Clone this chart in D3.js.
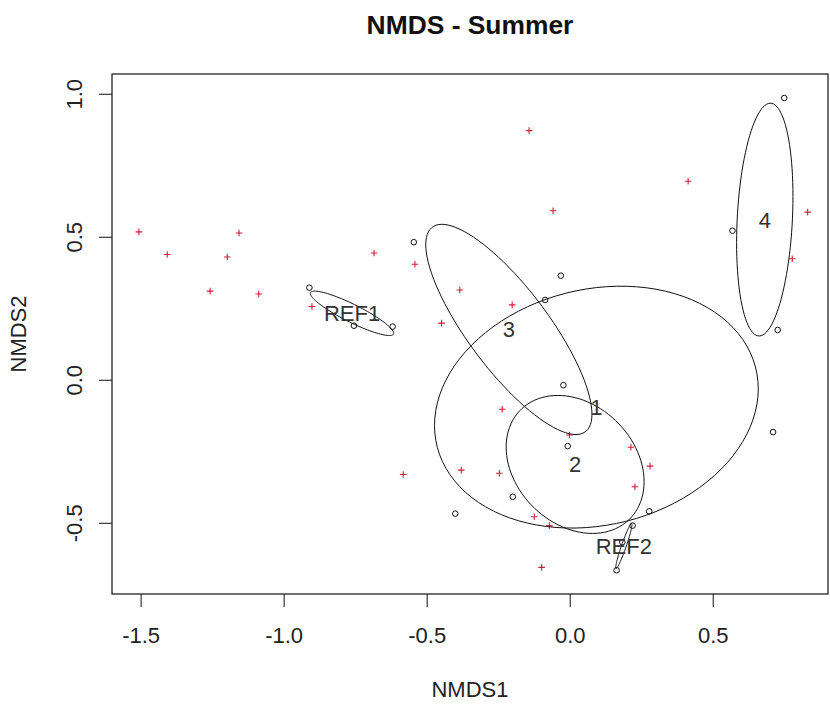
<!DOCTYPE html>
<html>
<head>
<meta charset="utf-8">
<script src="https://cdn.jsdelivr.net/npm/d3@7"></script>
<style>
  body { margin: 0; background: #fff; }
  text { font-family: "Liberation Sans", Arial, Helvetica, sans-serif; }
</style>
</head>
<body>
<div id="chart"></div>
<script>
const width = 830;
const height = 704;
const margins = { top: 74, left: 112, bottom: 110, right: 2 };

// site scores (open circles) and their groups
const siteX = [-0.910, -0.754, -0.619, -0.545, -0.031, -0.086, -0.022, -0.007, -0.199,
               -0.400, 0.278, 0.711, 0.750, 0.569, 0.727, 0.220, 0.184, 0.164];
const siteY = [0.322, 0.189, 0.186, 0.481, 0.364, 0.279, -0.019, -0.232, -0.409,
               -0.468, -0.460, -0.183, 0.985, 0.521, 0.174, -0.510, -0.568, -0.666];
const siteGroup = ['REF1', 'REF1', 'REF1', '3', '1', '3', '2', '3', '2',
                   '1', '2', '1', '4', '4', '4', 'REF2', 'REF2', 'REF2'];
const groupNames = ['1', '2', '3', '4', 'REF1', 'REF2'];

// species scores (red crosses)
const speciesX = [-1.506, -1.156, -1.407, -1.197, -1.257, -1.087, -0.901, -0.142, -0.058,
                  -0.684, -0.541, -0.384, -0.201, -0.448, 0.414, 0.832, 0.778, -0.236,
                  -0.001, -0.582, -0.379, -0.246, -0.124, -0.071, -0.098, 0.214, 0.281, 0.228];
const speciesY = [0.517, 0.513, 0.438, 0.429, 0.310, 0.300, 0.256, 0.871, 0.591,
                  0.443, 0.404, 0.314, 0.262, 0.198, 0.694, 0.586, 0.423, -0.103,
                  -0.193, -0.331, -0.316, -0.327, -0.479, -0.510, -0.656, -0.236, -0.302, -0.374];

const xTicks = [-1.5, -1.0, -0.5, 0.0, 0.5];
const yTicks = [-0.5, 0.0, 0.5, 1.0];
const xDomain = [-1.600, 0.903];
const yDomain = [-0.749, 1.069];

const svg = d3.select('#chart')
    .append('svg')
    .attr('width', width)
    .attr('height', height);

svg.append('rect').attr('width', width).attr('height', height).attr('fill', '#fff');

const x = d3.scaleLinear().domain(xDomain).range([margins.left, width - margins.right]);
const y = d3.scaleLinear().domain(yDomain).range([height - margins.bottom, margins.top]);

// axes
const xAxis = svg.append('g')
    .attr('transform', `translate(0,${height - margins.bottom})`)
    .call(d3.axisBottom(x).tickValues(xTicks).tickSize(13).tickSizeOuter(0).tickPadding(20)
        .tickFormat(d => d.toFixed(1)));
xAxis.select('.domain').remove();
xAxis.selectAll('line').attr('stroke', '#111');
xAxis.selectAll('text').attr('font-size', 22).attr('fill', '#222')
    .attr('font-family', '"Liberation Sans", Arial, sans-serif');

const yAxis = svg.append('g')
    .attr('transform', `translate(${margins.left},0)`)
    .call(d3.axisLeft(y).tickValues(yTicks).tickSize(13).tickSizeOuter(0)
        .tickFormat(d => d.toFixed(1)));
yAxis.select('.domain').remove();
yAxis.selectAll('line').attr('stroke', '#111');
yAxis.selectAll('text')
    .attr('x', 0).attr('y', 0).attr('dy', 0)
    .attr('text-anchor', 'middle')
    .attr('transform', 'translate(-30,0) rotate(-90)')
    .attr('font-size', 22).attr('fill', '#222')
    .attr('font-family', '"Liberation Sans", Arial, sans-serif');

// box
svg.append('rect')
    .attr('x', margins.left).attr('y', margins.top)
    .attr('width', width - margins.right - margins.left)
    .attr('height', height - margins.bottom - margins.top)
    .attr('fill', 'none').attr('stroke', '#111').attr('stroke-width', 1.2);

// titles
svg.append('text')
    .attr('x', (margins.left + width - margins.right) / 2).attr('y', 34)
    .attr('text-anchor', 'middle').attr('font-size', 26.4).attr('font-weight', 'bold')
    .attr('fill', '#111')
    .text('NMDS - Summer');

svg.append('text')
    .attr('x', (margins.left + width - margins.right) / 2).attr('y', 697)
    .attr('text-anchor', 'middle').attr('font-size', 22).attr('fill', '#222')
    .text('NMDS1');

svg.append('text')
    .attr('transform', `translate(26,${(margins.top + height - margins.bottom) / 2}) rotate(-90)`)
    .attr('text-anchor', 'middle').attr('font-size', 22).attr('fill', '#222')
    .text('NMDS2');

const plot = svg.append('g');

// species
plot.selectAll('path.sp')
    .data(speciesX.map((d, i) => [d, speciesY[i]]))
    .enter()
    .append('path')
    .attr('class', 'sp')
    .attr('transform', d => `translate(${x(d[0])},${y(d[1])})`)
    .attr('d', 'M-3.3,0H3.3M0,-3.3V3.3')
    .attr('stroke', '#d01e38')
    .attr('stroke-width', 1.1);

// sites
plot.selectAll('circle.site')
    .data(siteX.map((d, i) => [d, siteY[i]]))
    .enter()
    .append('circle')
    .attr('class', 'site')
    .attr('cx', d => x(d[0]))
    .attr('cy', d => y(d[1]))
    .attr('r', 2.8)
    .attr('fill', 'none')
    .attr('stroke', '#111')
    .attr('stroke-width', 1);

// standard deviation ellipses (like vegan ordiellipse, kind = "sd")
const ellipses = groupNames.map(g => {
    const pts = siteX.map((d, i) => [d, siteY[i]]).filter((d, i) => siteGroup[i] === g);
    const n = pts.length;
    const cx = d3.mean(pts, d => d[0]);
    const cy = d3.mean(pts, d => d[1]);
    const a = d3.sum(pts, d => (d[0] - cx) ** 2) / (n - 1);
    const b = d3.sum(pts, d => (d[0] - cx) * (d[1] - cy)) / (n - 1);
    const c = d3.sum(pts, d => (d[1] - cy) ** 2) / (n - 1);
    const r11 = Math.sqrt(a);
    const r12 = b / r11;
    const r22 = Math.sqrt(Math.max(c - r12 * r12, 0));
    const path = d3.range(101).map(k => {
        const t = k * 2 * Math.PI / 100;
        return [cx + Math.cos(t) * r11, cy + Math.cos(t) * r12 + Math.sin(t) * r22];
    });
    return { name: g, cx, cy, path };
});

const line = d3.line().x(d => x(d[0])).y(d => y(d[1]));

plot.selectAll('path.ell')
    .data(ellipses)
    .enter()
    .append('path')
    .attr('class', 'ell')
    .attr('d', d => line(d.path))
    .attr('fill', 'none')
    .attr('stroke', '#111')
    .attr('stroke-width', 1);

plot.selectAll('text.lab')
    .data(ellipses)
    .enter()
    .append('text')
    .attr('class', 'lab')
    .attr('x', d => x(d.cx))
    .attr('y', d => y(d.cy))
    .attr('dy', '0.36em')
    .attr('text-anchor', 'middle')
    .attr('font-size', 22)
    .attr('fill', '#333')
    .text(d => d.name);
</script>
</body>
</html>
